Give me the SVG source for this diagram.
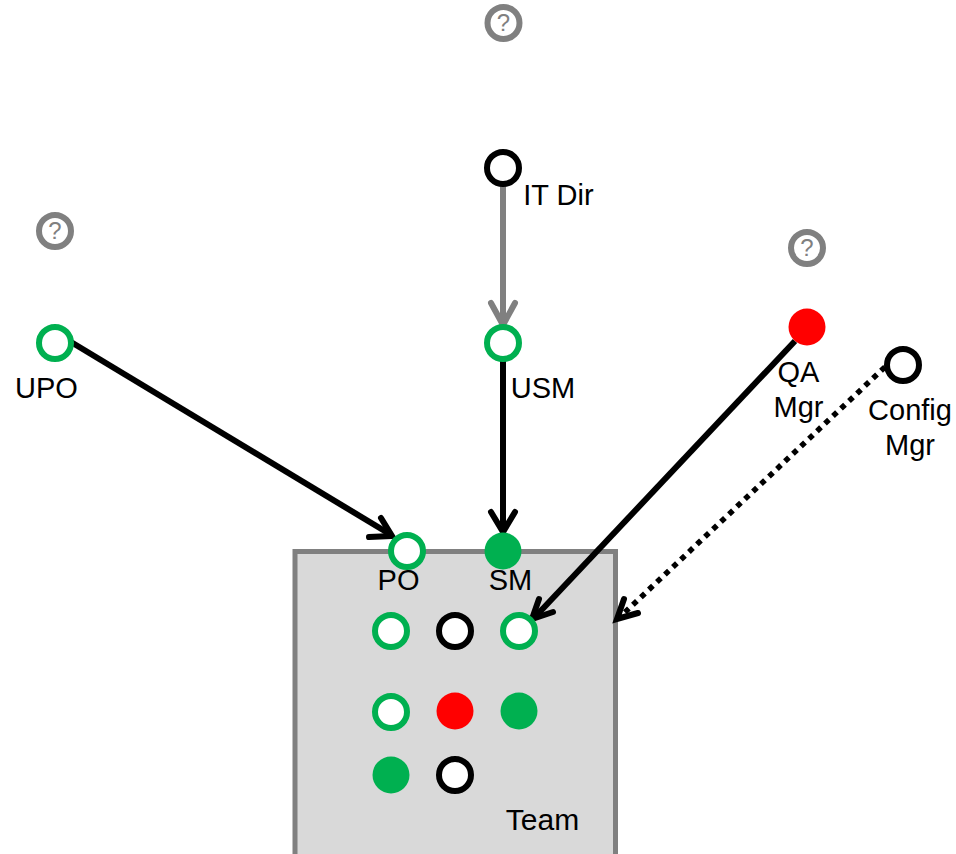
<svg xmlns="http://www.w3.org/2000/svg" width="956" height="854" viewBox="0 0 956 854">
<style>
text{font-family:"Liberation Sans",Arial,sans-serif;font-size:29px;fill:#000;text-anchor:middle}
.ring{fill:#fff;stroke-width:6px}
.g{stroke:#00b050}.k{stroke:#000}
.fg{fill:#00b050}.fr{fill:#f00}
.q circle{fill:#fff;stroke:#808080;stroke-width:6px}
.q text{font-size:24px;fill:#808080}
.c{fill:none;stroke:#000;stroke-width:6px}
.h{fill:none;stroke:#000;stroke-width:6px;stroke-linecap:round;stroke-linejoin:miter}
</style>
<g id="team-box"><path d="M295 854V551.500H615.500V854" fill="#d9d9d9" stroke="#808080" stroke-width="5"/><text x="542.500" y="830" style="font-size:30px">Team</text></g>
<g id="connectors">
<path class="c" d="M503 183V320" style="stroke:#808080"/>
<path class="h" d="M491 303L503 325L515 303" style="stroke:#808080"/>
<path class="c" d="M503 361V530"/>
<path class="h" d="M491 512L503 532L515 512"/>
<path class="c" d="M71 342L388 533"/>
<path class="h" d="M381 518L392 536L369 537"/>
<path class="c" d="M795 341L535 617"/>
<path class="h" d="M539 599L532 619L553 612"/>
<path class="c" d="M885 367L622 615" style="stroke-dasharray:5.500 5.500;stroke-width:5.500px"/>
<path class="h" d="M624 599L617 619L638 613"/>
</g>
<g id="q1" class="q"><circle cx="503.500" cy="23" r="16"/><text x="503.500" y="31">?</text></g>
<g id="q2" class="q"><circle cx="55" cy="231" r="16"/><text x="55" y="239">?</text></g>
<g id="q3" class="q"><circle cx="807" cy="248" r="16"/><text x="807" y="256">?</text></g>
<g id="it-dir"><circle class="ring k" cx="503" cy="168" r="16"/><text x="558.500" y="205">IT Dir</text></g>
<g id="usm"><circle class="ring g" cx="503" cy="343" r="16"/><text x="543" y="398">USM</text></g>
<g id="upo"><circle class="ring g" cx="55" cy="343" r="16"/><text x="46.500" y="398">UPO</text></g>
<g id="qa-mgr"><circle class="fr" cx="807" cy="327" r="18.500"/><text x="798.500" y="382">QA</text><text x="798.500" y="417">Mgr</text></g>
<g id="config-mgr"><circle class="ring k" cx="903" cy="365" r="16"/><text x="910" y="420">Config</text><text x="910" y="455">Mgr</text></g>
<g id="po"><circle class="ring g" cx="407" cy="551" r="16"/><text x="398.500" y="590">PO</text></g>
<g id="sm"><circle class="fg" cx="503" cy="551" r="18.500"/><text x="510.500" y="590">SM</text></g>
<g id="m1"><circle class="ring g" cx="391" cy="631" r="16"/></g>
<g id="m2"><circle class="ring k" cx="455" cy="631" r="16"/></g>
<g id="m3"><circle class="ring g" cx="519" cy="631" r="16"/></g>
<g id="m4"><circle class="ring g" cx="391" cy="712" r="16"/></g>
<g id="m5"><circle class="fr" cx="455" cy="711" r="18.500"/></g>
<g id="m6"><circle class="fg" cx="519" cy="711" r="18.500"/></g>
<g id="m7"><circle class="fg" cx="391" cy="775" r="18.500"/></g>
<g id="m8"><circle class="ring k" cx="455" cy="775" r="16"/></g>
</svg>
